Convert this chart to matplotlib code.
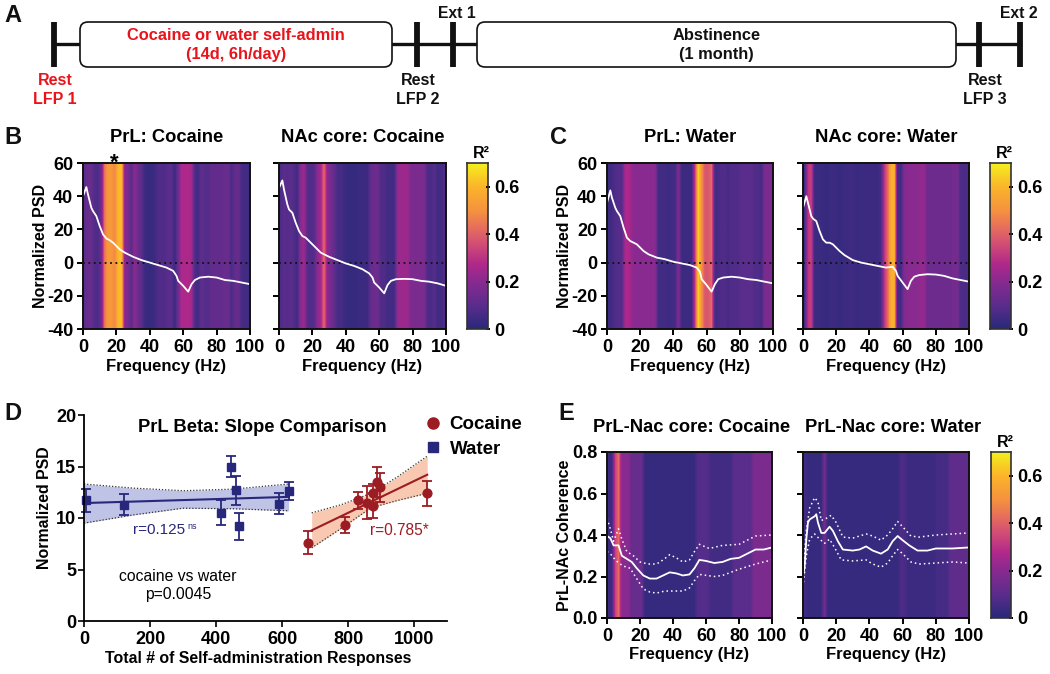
"""Timeline, PSD heatmaps, slope comparison and coherence heatmaps (panels A-E)."""
import numpy as np, matplotlib
matplotlib.use("Agg")
import matplotlib.pyplot as plt
from matplotlib.colors import LinearSegmentedColormap
from matplotlib.lines import Line2D
from matplotlib.patches import FancyBboxPatch

plt.rcParams["font.family"] = ["Liberation Sans", "DejaVu Sans"]
plt.rcParams["font.weight"] = "bold"
plt.rcParams["axes.unicode_minus"] = False
W, H = 1050, 674
NAVY, DARKRED = "#27277c", "#9c1c24"
CMAP = LinearSegmentedColormap.from_list("r2", [
    (0, "#29297a"), (0.14, "#5a2d8c"), (0.29, "#8a2a90"), (0.39, "#b0288a"),
    (0.5, "#cf4a78"), (0.6, "#e56a60"), (0.71, "#f59140"), (0.86, "#fbb52a"), (1, "#f5f01f")])

# panel A timeline
rest_bars = [54, 417, 453, 979, 1020]
boxes = [(80, 392), (477, 956)]
box_labels = ["Cocaine or water self-admin\n(14d, 6h/day)", "Abstinence\n(1 month)"]
box_colors = ["#e8141c", "#111111"]
rest_x = [55, 418, 985]
rest_labels = ["Rest\nLFP 1", "Rest\nLFP 2", "Rest\nLFP 3"]
rest_colors = ["#e8141c", "#111111", "#111111"]
ext_x = [457, 1019]
ext_labels = ["Ext 1", "Ext 2"]

# R2 per 2 Hz bin, 0-100 Hz
r2_prl_coc = [.10,.13,.13,.08,.07,.14,.45,.52,.52,.48,.60,.62,.20,.16,.10,.20,.14,.10,.04,.03,
              .03,.04,.08,.08,.08,.10,.10,.04,.14,.27,.27,.27,.25,.07,.05,.12,.09,.09,.12,.12,
              .12,.12,.13,.13,.07,.12,.13,.06,.05,.05]
r2_nac_coc = [.07,.10,.09,.10,.08,.05,.20,.24,.09,.08,.09,.20,.25,.42,.20,.16,.12,.06,.06,.04,
              .03,.03,.03,.03,.04,.04,.04,.12,.14,.14,.08,.08,.05,.05,.05,.22,.24,.24,.24,.17,
              .17,.17,.17,.17,.07,.07,.09,.05,.05,.08]
r2_prl_wat = [.04,.05,.08,.09,.09,.27,.27,.22,.20,.20,.20,.20,.20,.20,.20,.05,.05,.05,.04,.05,
              .05,.18,.04,.04,.04,.04,.32,.65,.50,.38,.38,.42,.06,.06,.08,.08,.06,.08,.08,.08,
              .10,.10,.10,.10,.08,.08,.06,.17,.17,.17]
r2_nac_wat = [.05,.30,.33,.04,.04,.04,.03,.03,.04,.04,.03,.03,.04,.04,.05,.04,.03,.04,.04,.04,
              .04,.04,.04,.06,.30,.42,.58,.60,.05,.05,.18,.20,.20,.20,.20,.22,.22,.14,.14,.14,
              .14,.14,.14,.14,.14,.16,.16,.07,.07,.07]
r2_coh_coc = [.04,.04,.33,.42,.20,.20,.20,.13,.13,.13,.13,.03,.03,.03,.03,.03,.03,.03,.03,.03,
              .03,.03,.03,.03,.03,.03,.03,.09,.09,.09,.09,.05,.05,.05,.05,.05,.05,.05,.10,.10,
              .10,.10,.10,.10,.17,.17,.17,.17,.17,.17]
r2_coh_wat = [.05,.03,.03,.03,.03,.03,.15,.03,.03,.03,.03,.03,.03,.03,.03,.03,.03,.03,.03,.03,
              .03,.03,.03,.03,.03,.03,.03,.03,.03,.07,.07,.04,.04,.04,.04,.04,.04,.04,.04,.04,
              .06,.06,.06,.06,.11,.11,.11,.11,.11,.11]

# PSD curves
f_coc = [0,2,3,5,6,8,10,12,14,16,18,20,22,25,30,35,40,45,50,54,56,57,60,63,65,67,70,75,80,85,90,95,100]
psd_prl_coc = [40,45.5,41,33,31,28,22,17,14.5,13.5,12,10,8,6,3.5,1.5,0,-1.5,-3,-5,-8,-11,-14,-17.5,-13,-10.5,-9,-8.5,-9,-10.5,-11,-12,-13]
psd_nac_coc = [45,49.5,44,35,32,30,24,19,16,15,13,11,9,6,3.5,1.5,-.5,-2,-4,-6.5,-9,-12,-15,-18.5,-13.5,-11,-10,-9.8,-10,-11,-11.5,-12.5,-14]
psd_prl_wat = [36,43.5,39,33,31,28,21,15,13,12,11,9,7,5,3,2,.5,-.5,-1.5,-3,-5.5,-10,-13.5,-17.5,-13,-10,-9,-8.5,-9,-10,-10.5,-11.5,-12.5]
psd_nac_wat = [33,40,36,28,26.5,25,19,14,12,12,11,9,7,4.5,1.5,0,-1,-2,-3,-2.5,-5,-8,-12,-16,-11,-8.5,-7.5,-7,-7.2,-8,-9.5,-10.5,-11.5]

# coherence curves with dotted error limits
f_e1 = [0,2,4,7,9,12,15,18,22,26,30,34,38,42,46,50,53,56,60,65,70,75,80,85,90,95,100]
coh_coc = [.395,.385,.35,.35,.30,.285,.27,.24,.205,.19,.19,.205,.22,.215,.205,.21,.24,.28,.275,.265,.27,.285,.29,.31,.33,.33,.34]
f_e1_up = [0,2,4,7,9,12,16,20,25,30,34,38,42,46,50,53,56,62,70,80,90,100]
coh_coc_up = [.48,.43,.37,.43,.38,.32,.30,.27,.26,.26,.28,.305,.29,.27,.28,.32,.355,.335,.35,.355,.395,.40]
f_e1_lo = [0,2,4,7,10,14,18,22,26,30,35,40,46,50,53,56,65,70,80,90,100]
coh_coc_lo = [.32,.31,.29,.265,.25,.24,.19,.14,.125,.12,.13,.13,.13,.145,.18,.21,.20,.205,.235,.26,.28]
f_e2 = [0,1,2,3,4,7,8,9,11,13,16,18,21,24,30,34,38,42,47,51,54,57,60,64,69,75,80,90,100]
coh_wat = [.2,.25,.38,.46,.475,.49,.50,.46,.41,.41,.44,.42,.37,.33,.325,.33,.345,.325,.31,.33,.37,.395,.375,.35,.325,.325,.335,.335,.34]
f_e2_up = [0,2,4,7,9,11,14,17,20,24,30,38,42,47,51,54,57,60,65,70,80,90,100]
coh_wat_up = [.22,.42,.53,.58,.56,.47,.48,.495,.46,.39,.385,.405,.395,.375,.40,.43,.465,.44,.395,.39,.40,.405,.41]
f_e2_lo = [0,2,4,7,10,13,16,19,23,30,38,42,47,51,54,57,60,65,70,80,90,100]
coh_wat_lo = [.15,.30,.38,.405,.38,.36,.38,.34,.28,.275,.28,.26,.245,.265,.30,.33,.31,.27,.26,.265,.27,.265]

# panel D scatter
water_x = [5,122,415,445,460,470,590,622]
water_y = [11.7,11.3,10.5,15,12.7,9.2,11.4,12.6]
water_err = [1.1,1.0,1.2,1.0,1.4,1.3,1.0,.9]
coc_x = [680,790,830,858,875,875,888,897,1040]
coc_y = [7.6,9.3,11.7,11.5,11.2,12.4,13.5,13,12.4]
coc_err = [1.1,.8,.8,1.6,1.2,.9,1.5,1.4,1.2]
water_fit_x, water_fit_y = [0,620], [11.45,12.05]
water_band_x = [0,150,300,450,620]
water_band_up = [13.3,12.9,12.65,12.8,13.3]
water_band_lo = [9.5,10.3,10.95,10.9,10.7]
coc_fit_x, coc_fit_y = [690,1040], [8.8,14.2]
coc_band_x = [690,780,870,950,1040]
coc_band_up = [10.5,11.3,12.4,14,16]
coc_band_lo = [7.1,9,11,11.7,12.4]

freq_ticks = [0,20,40,60,80,100]
fig = plt.figure(figsize=(W/100, H/100), dpi=100)

def px_axes(x0, x1, y0, y1):
    return fig.add_axes([x0/W, 1-y1/H, (x1-x0)/W, (y1-y0)/H])

def heat(x0, x1, y0, y1, r2, ylim, yticks, ylabel=None, title=None, title_x=.5):
    ax = px_axes(x0, x1, y0, y1)
    ax.imshow(np.array([r2]), extent=[0, 100, ylim[0], ylim[1]], aspect="auto", cmap=CMAP,
              vmin=0, vmax=.7, interpolation="bilinear")
    ax.set_xlim(0, 100); ax.set_ylim(*ylim)
    ax.set_xticks(freq_ticks)
    ax.set_yticks(yticks)
    ax.tick_params(labelsize=13, width=1.4, length=4, pad=3)
    if ylabel:
        ax.set_ylabel(ylabel, fontsize=11.5, fontweight="bold")
        ax.yaxis.set_label_coords(-.21, .5)
    else:
        ax.set_yticklabels([])
    ax.set_xlabel("Frequency (Hz)", fontsize=12, fontweight="bold", labelpad=2)
    if title:
        ax.text(title_x, 1+25/(y1-y0), title, transform=ax.transAxes,
                ha="center", va="center", fontsize=13.2)
    for s in ax.spines.values():
        s.set_linewidth(1.4); s.set_color("#111111")
    return ax

def psd(ax, f, y):
    ax.axhline(0, color="#111111", lw=1.3, ls=(0, (1, 2)))
    ax.plot(f, y, color="white", lw=1.3)

def cbar(x0, x1, y0, y1):
    ax = px_axes(x0, x1, y0, y1)
    ax.imshow(np.linspace(.7, 0, 256)[:, None], aspect="auto", cmap=CMAP, vmin=0, vmax=.7, extent=[0, 1, 0, .7])
    ax.set_xticks([])
    ax.yaxis.tick_right()
    ax.set_yticks([0,.2,.4,.6], ["0","0.2","0.4","0.6"])
    ax.tick_params(labelsize=13, width=1.4, length=3, direction="inout", pad=3)
    for s in ax.spines.values():
        s.set_linewidth(1.2); s.set_color("#333333")
    ax.text(.7, 1.015, "R²", transform=ax.transAxes, ha="center", va="bottom", fontsize=11.5)

# heatmaps B, C
psd_yticks = [-40,-20,0,20,40,60]
a = heat(83, 250, 163, 329, r2_prl_coc, (-40, 60), psd_yticks, "Normalized PSD", "PrL: Cocaine")
psd(a, f_coc, psd_prl_coc)
a.text(19, 60, "*", ha="center", va="center", fontsize=16)
a = heat(279, 446, 163, 329, r2_nac_coc, (-40, 60), psd_yticks, None, "NAc core: Cocaine")
psd(a, f_coc, psd_nac_coc)
cbar(467, 488, 163, 329)
a = heat(607, 773, 163, 329, r2_prl_wat, (-40, 60), psd_yticks, "Normalized PSD", "PrL: Water")
psd(a, f_coc, psd_prl_wat)
a = heat(803, 969, 163, 329, r2_nac_wat, (-40, 60), psd_yticks, None, "NAc core: Water")
psd(a, f_coc, psd_nac_wat)
cbar(990, 1011, 163, 329)

# heatmaps E
coh_yticks = [0,.2,.4,.6,.8]
def coh(ax, f, y, fu, u, fl, l):
    ax.plot(f, y, color="white", lw=1.3)
    ax.plot(fu, u, color="white", lw=1.1, ls=(0, (1, 2)))
    ax.plot(fl, l, color="white", lw=1.1, ls=(0, (1, 2)))
a = heat(607, 772, 452, 618, r2_coh_coc, (0, .8), coh_yticks, "PrL-NAc Coherence", "PrL-Nac core: Cocaine", .51)
a.set_yticklabels(["0.0","0.2","0.4","0.6","0.8"])
coh(a, f_e1, coh_coc, f_e1_up, coh_coc_up, f_e1_lo, coh_coc_lo)
a = heat(803, 969, 452, 618, r2_coh_wat, (0, .8), coh_yticks, None, "PrL-Nac core: Water", .54)
coh(a, f_e2, coh_wat, f_e2_up, coh_wat_up, f_e2_lo, coh_wat_lo)
cbar(991, 1011, 452, 618)

# panel D
d = px_axes(84, 447, 415, 621)
d.fill_between(water_band_x, water_band_lo, water_band_up, color="#bfc3e6", lw=0)
d.plot(water_band_x, water_band_up, color="#333333", lw=.9, ls=(0, (1, 1.5)))
d.plot(water_band_x, water_band_lo, color="#333333", lw=.9, ls=(0, (1, 1.5)))
d.fill_between(coc_band_x, coc_band_lo, coc_band_up, color="#f8c8b0", lw=0)
d.plot(coc_band_x, coc_band_up, color="#333333", lw=.9, ls=(0, (1, 1.5)))
d.plot(coc_band_x, coc_band_lo, color="#333333", lw=.9, ls=(0, (1, 1.5)))
d.plot(water_fit_x, water_fit_y, color=NAVY, lw=1.5)
d.plot(coc_fit_x, coc_fit_y, color=DARKRED, lw=1.5)
d.errorbar(water_x, water_y, yerr=water_err, fmt="s", ms=5.8, color=NAVY, capsize=3.6, capthick=1.3, elinewidth=1.3, clip_on=False)
d.errorbar(coc_x, coc_y, yerr=coc_err, fmt="o", ms=6.3, color=DARKRED, capsize=3.6, capthick=1.3, elinewidth=1.3, clip_on=False)
d.set_xlim(0, 1100); d.set_ylim(0, 20)
d.set_xticks([0,200,400,600,800,1000]); d.set_yticks([0,5,10,15,20])
d.tick_params(labelsize=13, width=1.2, length=4, pad=1.5)
d.tick_params(axis="x", pad=3)
d.spines[["top", "right"]].set_visible(False)
d.spines[["left", "bottom"]].set_linewidth(1.3)
d.set_xlabel("Total # of Self-administration Responses", fontsize=11.4, fontweight="bold", labelpad=2, x=.48)
d.set_ylabel("Normalized PSD", fontsize=11.4, fontweight="bold")
d.yaxis.set_label_coords(-.088, .55)
d.text(540, 18.8, "PrL Beta: Slope Comparison", ha="center", va="center", fontsize=13.2)
d.text(227, 8.83, "r=0.125", color=NAVY, ha="center", va="center", fontsize=11, fontweight="normal")
d.text(328, 9.15, "ns", color=NAVY, ha="center", va="center", fontsize=6.5, fontweight="normal")
d.text(955, 8.83, "r=0.785*", color=DARKRED, ha="center", va="center", fontsize=11.2, fontweight="normal")
d.text(284, 3.45, "cocaine vs water\np=0.0045", ha="center", va="center", fontsize=11.3, fontweight="normal", linespacing=1.25)
legend_marks = [Line2D([], [], ls="none", marker="o", ms=8, color=DARKRED),
                Line2D([], [], ls="none", marker="s", ms=7.5, color=NAVY)]
d.legend(legend_marks, ["Cocaine", "Water"], loc="upper left", bbox_to_anchor=(.93, .995), frameon=False, fontsize=13.5,
         handletextpad=.3, labelspacing=.4, handlelength=1.2, borderpad=0, borderaxespad=0)

# overlay in image pixels: panel A and letters
o = fig.add_axes([0, 0, 1, 1]); o.set_xlim(0, W); o.set_ylim(H, 0); o.axis("off")
o.plot([54, 1020], [44, 44], color="#111111", lw=2.4, zorder=1)
for x in rest_bars:
    o.plot([x, x], [22, 67], color="#111111", lw=4.2, solid_capstyle="butt", zorder=2)
for (x0, x1), lab, c in zip(boxes, box_labels, box_colors):
    o.add_patch(FancyBboxPatch((x0+8, 22+8), x1-x0-16, 45-16, boxstyle="round,pad=8", fc="white", ec="#111111", lw=1.2, zorder=3))
    o.text((x0+x1)/2, 45, lab, color=c, ha="center", va="center", fontsize=11.8, linespacing=1.4, zorder=4)
for x, lab, c in zip(rest_x, rest_labels, rest_colors):
    o.text(x, 90, lab, color=c, ha="center", va="center", fontsize=11.5, linespacing=1.4)
for x, lab in zip(ext_x, ext_labels):
    o.text(x, 13, lab, color="#111111", ha="center", va="center", fontsize=11.3)
for lab, x, y in [("A",4,15),("B",4,137),("C",550,137),("D",4,413),("E",558,414)]:
    o.text(x, y, lab, ha="left", va="center", fontsize=17, color="#111111")

plt.savefig("out.png", dpi=100)
